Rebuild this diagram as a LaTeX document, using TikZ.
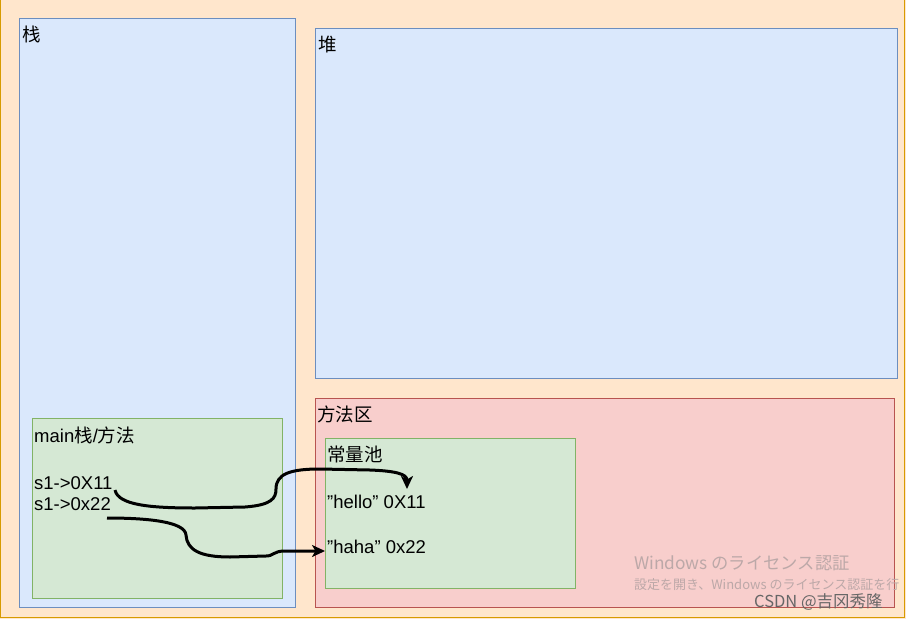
\documentclass[tikz,border=0pt]{standalone}
\usepackage{fontspec}
\setmainfont{Liberation Sans}[Ligatures=ResetAll]
\newfontfamily\cjk{Noto Sans CJK SC}
\newfontfamily\jpfont{Noto Sans CJK JP}
\usetikzlibrary{arrows.meta}
\definecolor{orfill}{HTML}{FFE6CC}
\definecolor{ordraw}{HTML}{D79B00}
\definecolor{blfill}{HTML}{DAE8FC}
\definecolor{bldraw}{HTML}{6C8EBF}
\definecolor{rdfill}{HTML}{F8CECC}
\definecolor{rddraw}{HTML}{B85450}
\definecolor{grfill}{HTML}{D5E8D4}
\definecolor{grdraw}{HTML}{82B366}
\definecolor{wmark}{RGB}{188,168,168}
\tikzset{
  region/.style={line width=1pt},
  lbl/.style={inner sep=0pt, anchor=base west, font=\fontsize{18.5}{22}\selectfont},
  conn/.style={line width=3pt, -{Stealth[length=13pt,width=12pt,inset=3.5pt]}},
}
\begin{document}
\begin{tikzpicture}[x=1pt,y=-1pt]
\useasboundingbox (0,0) rectangle (906,619);
% outer background
\fill[orfill] (0,0) rectangle (906,619);
\draw[ordraw,line width=1pt] (0.5,-2) -- (0.5,617) -- (904.5,617) -- (904.5,-2);
% regions
\draw[region,fill=blfill,draw=bldraw] (19.5,18.5) rectangle (295.5,607.5);
\draw[region,fill=blfill,draw=bldraw] (315.5,28.5) rectangle (897.5,378.5);
\draw[region,fill=rdfill,draw=rddraw] (315.5,398.5) rectangle (894.5,607.5);
\draw[region,fill=grfill,draw=grdraw] (32.5,418.5) rectangle (282.5,598.5);
\draw[region,fill=grfill,draw=grdraw] (325.5,438.5) rectangle (575.5,588.5);
% labels
\node[lbl] (stack) at (22,41) {\cjk 栈};
\node[lbl] (heap) at (318,51) {\cjk 堆};
\node[lbl] (method) at (317,421) {\cjk 方法区};
\node[lbl] (mainlbl) at (34,442) {main{\cjk 栈}/{\cjk 方法}};
\node[lbl] (s1a) at (34,489) {s1->0X11};
\node[lbl] (s1b) at (34,510) {s1->0x22};
\node[lbl] (pool) at (327,461) {\cjk 常量池};
\node[lbl] (hello) at (327,508) {\char34 hello\char34{} 0X11};
\node[lbl] (haha) at (327,553) {\char34 haha\char34{} 0x22};
% connector end points
\coordinate (st1) at (115,490);
\coordinate (en1) at (407,489);
\coordinate (st2) at (107,518);
\coordinate (en2) at (325,551);
% connectors
\draw[conn] (st1) .. controls (118,505) and (150,508) .. (195,508)
  -- (245,507) .. controls (272,505) and (276,498) .. (276,489)
  .. controls (276,474) and (290,469) .. (320,469)
  -- (370,470) .. controls (396,471) and (407,474) .. (en1);
\draw[conn] (st2) .. controls (150,518) and (185,522) .. (186,535)
  .. controls (187,550) and (200,557) .. (230,557)
  -- (266,556) .. controls (274,556) and (273,551) .. (285,551) -- (en2);
% watermark texts
\node[inner sep=0pt,anchor=base west,text=wmark,font=\jpfont\fontsize{17.3}{20}\selectfont] (wm1) at (634,569) {Windows のライセンス認証};
\node[inner sep=0pt,anchor=base west,text=wmark,font=\jpfont\fontsize{13}{15}\selectfont] (wm2) at (634,589) {設定を開き、Windows のライセンス認証を行};
\node[inner sep=0pt,anchor=base west,text=black!60,font=\jpfont\fontsize{16.5}{18}\selectfont] (csdn) at (754,607) {CSDN @吉冈秀隆};
\end{tikzpicture}
\end{document}
